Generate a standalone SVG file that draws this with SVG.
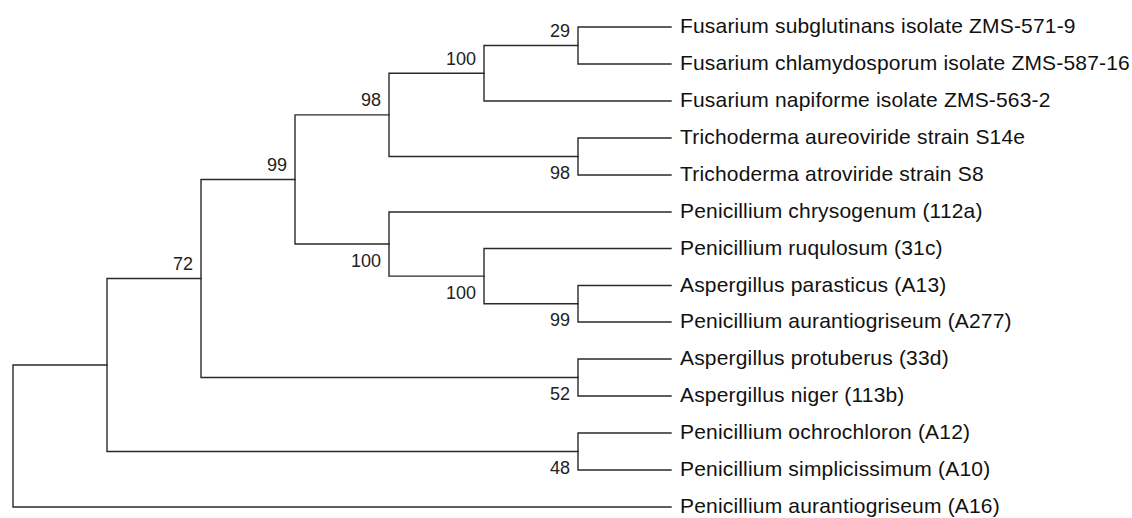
<svg xmlns="http://www.w3.org/2000/svg" width="1132" height="518" viewBox="0 0 1132 518">
<style>
.br{fill:none;stroke:#2a2a2a;stroke-width:1.4;stroke-linecap:square}
.leaf{font-family:"Liberation Sans",Arial,sans-serif;font-size:21px;letter-spacing:0.18px;fill:#111}
.bs{font-family:"Liberation Sans",Arial,sans-serif;font-size:18px;fill:#222;text-anchor:end}
</style>
<rect width="1132" height="518" fill="#fff"/>
<g id="connectors" class="br">
<path d="M578,27V64M578,27H671M578,64H671"/>
<path d="M484,45.5V101M484,45.5H578M484,101H671"/>
<path d="M578,138V175M578,138H671M578,175H671"/>
<path d="M389,73.25V156.5M389,73.25H484M389,156.5H578"/>
<path d="M578,285.5V322M578,285.5H671M578,322H671"/>
<path d="M484,248.5V303.75M484,248.5H671M484,303.75H578"/>
<path d="M389,212V276.1M389,212H671M389,276.1H484"/>
<path d="M295,114.9V244M295,114.9H389M295,244H389"/>
<path d="M578,359V396M578,359H671M578,396H671"/>
<path d="M201,179.5V377.5M201,179.5H295M201,377.5H578"/>
<path d="M578,433V470M578,433H671M578,470H671"/>
<path d="M107,278.5V451.5M107,278.5H201M107,451.5H578"/>
<path d="M13,365V507M13,365H107M13,507H671"/>
</g>
<g id="n29"><text class="bs" x="570" y="37">29</text></g>
<g id="n100a"><text class="bs" x="476" y="64.7">100</text></g>
<g id="n98t"><text class="bs" x="570" y="179">98</text></g>
<g id="n98"><text class="bs" x="381" y="106.4">98</text></g>
<g id="n99a"><text class="bs" x="570" y="326.2">99</text></g>
<g id="n100b"><text class="bs" x="476" y="298.6">100</text></g>
<g id="n100c"><text class="bs" x="381" y="266.5">100</text></g>
<g id="n99"><text class="bs" x="287" y="171">99</text></g>
<g id="n52"><text class="bs" x="570" y="400">52</text></g>
<g id="n72"><text class="bs" x="193" y="270">72</text></g>
<g id="n48"><text class="bs" x="570" y="474">48</text></g>
<g id="root"></g>
<g id="t1"><text class="leaf" x="680" y="33">Fusarium subglutinans isolate ZMS-571-9</text></g>
<g id="t2"><text class="leaf" x="680" y="70">Fusarium chlamydosporum isolate ZMS-587-16</text></g>
<g id="t3"><text class="leaf" x="680" y="107">Fusarium napiforme isolate ZMS-563-2</text></g>
<g id="t4"><text class="leaf" x="680" y="144">Trichoderma aureoviride strain S14e</text></g>
<g id="t5"><text class="leaf" x="680" y="181">Trichoderma atroviride strain S8</text></g>
<g id="t6"><text class="leaf" x="680" y="218">Penicillium chrysogenum (112a)</text></g>
<g id="t7"><text class="leaf" x="680" y="254.5">Penicillium ruqulosum (31c)</text></g>
<g id="t8"><text class="leaf" x="680" y="291.5">Aspergillus parasticus (A13)</text></g>
<g id="t9"><text class="leaf" x="680" y="328">Penicillium aurantiogriseum (A277)</text></g>
<g id="t10"><text class="leaf" x="680" y="365">Aspergillus protuberus (33d)</text></g>
<g id="t11"><text class="leaf" x="680" y="402">Aspergillus niger (113b)</text></g>
<g id="t12"><text class="leaf" x="680" y="439">Penicillium ochrochloron (A12)</text></g>
<g id="t13"><text class="leaf" x="680" y="476">Penicillium simplicissimum (A10)</text></g>
<g id="t14"><text class="leaf" x="680" y="513">Penicillium aurantiogriseum (A16)</text></g>
</svg>
